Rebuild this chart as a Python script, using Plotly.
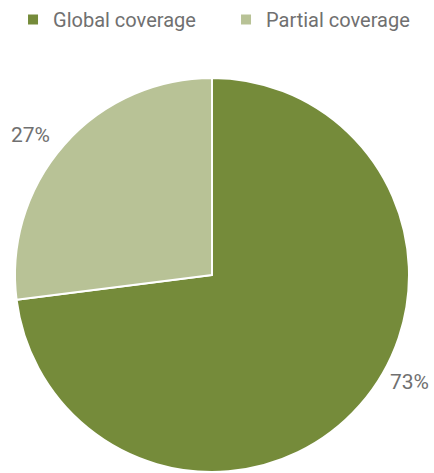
import plotly.graph_objects as go

categories = ["Global coverage", "Partial coverage"]
shares = [73, 27]
colors = ["#758b3a", "#b8c296"]

# percentage label anchor points (paper fractions), one per slice
label_x = [0.9447, 0.0714]
label_y = [0.228, 0.855]

font_family = "Roboto, sans-serif"
text_color = "#707070"

fig = go.Figure(
    go.Pie(
        labels=categories,
        values=shares,
        sort=False,
        direction="clockwise",
        rotation=0,
        marker=dict(colors=colors, line=dict(color="white", width=2)),
        textinfo="none",
        hoverinfo="label+percent",
        domain=dict(x=[15 / 434, 409 / 434], y=[0, 1]),
    )
)

for v, x, y in zip(shares, label_x, label_y):
    fig.add_annotation(
        x=x, y=y, xref="paper", yref="paper",
        text=f"{v}%", showarrow=False,
        xanchor="center", yanchor="middle",
        font=dict(family=font_family, size=21, color=text_color),
    )

fig.update_layout(
    width=434,
    height=473,
    margin=dict(l=0, r=0, t=78, b=1),
    paper_bgcolor="white",
    plot_bgcolor="white",
    showlegend=True,
    legend=dict(
        orientation="h",
        x=0.03,
        xanchor="left",
        xref="container",
        y=1.0,
        yanchor="top",
        yref="container",
        font=dict(family=font_family, size=20, color=text_color),
        itemwidth=30,
        entrywidthmode="pixels",
        entrywidth=168,
    ),
)

fig.write_html("out.html")
